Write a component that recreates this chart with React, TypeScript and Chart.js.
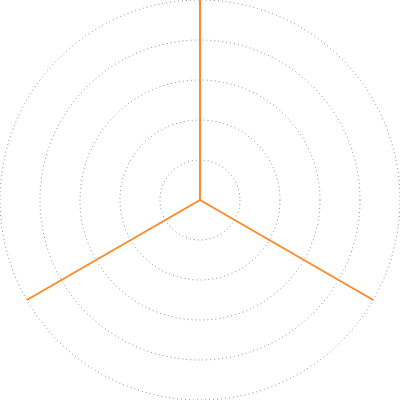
import React, { useEffect, useRef } from "react";
import { Chart, registerables } from "chart.js";

Chart.register(...registerables);

const categories = ["A", "B", "C"];
const seriesValues = [0, 0, 0];
const tickMin = 0;
const tickMax = 5;
const tickStep = 1;

export default function App() {
  const ref = useRef<HTMLCanvasElement | null>(null);
  useEffect(() => {
    document.body.style.margin = "0";
    const chart = new Chart(ref.current!, {
      type: "radar",
      data: {
        labels: categories,
        datasets: [
          {
            data: seriesValues,
            borderWidth: 0,
            pointRadius: 0,
            backgroundColor: "rgba(0,0,0,0)",
            borderColor: "rgba(0,0,0,0)",
          },
        ],
      },
      options: {
        animation: false,
        responsive: false,
        maintainAspectRatio: false,
        layout: { padding: 0 },
        plugins: { legend: { display: false }, tooltip: { enabled: false } },
        scales: {
          r: {
            min: tickMin,
            max: tickMax,
            ticks: { display: false, stepSize: tickStep },
            pointLabels: { display: false },
            grid: {
              circular: true,
              color: "rgba(0,0,0,0.45)",
              lineWidth: 1,
            },
            border: { dash: [1, 3] },
            angleLines: { display: true, color: "#ff8a2b", lineWidth: 2 },
          },
        },
      },
    });
    return () => chart.destroy();
  }, []);
  return (
    <div style={{ position: "absolute", left: 0, top: 0, width: 400, height: 400 }}>
      <canvas ref={ref} width={400} height={400} style={{ width: 400, height: 400 }} />
    </div>
  );
}
